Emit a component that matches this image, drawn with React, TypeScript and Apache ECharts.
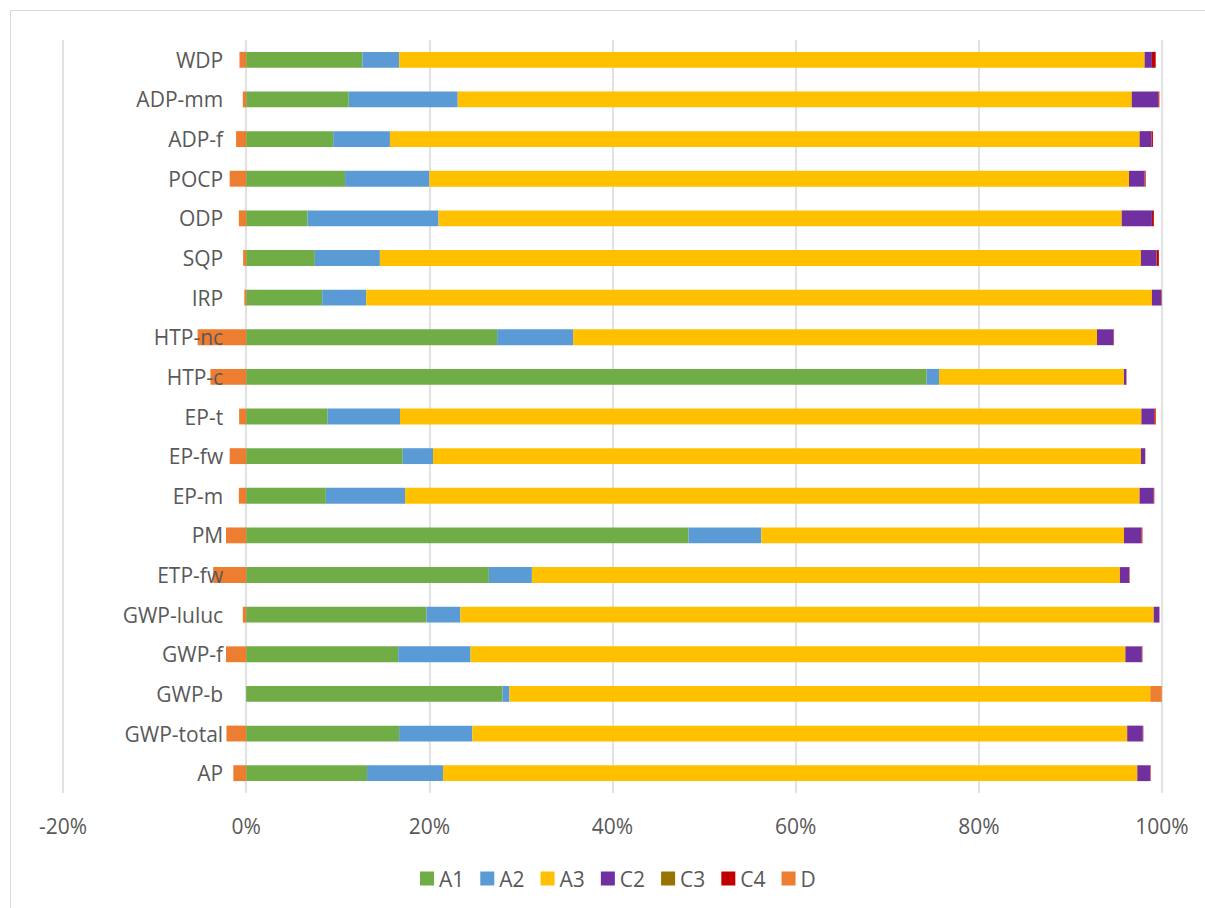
import React, { useEffect, useRef } from "react";
import * as echarts from "echarts";

const categories = [
  "AP", "GWP-total", "GWP-b", "GWP-f", "GWP-luluc", "ETP-fw", "PM", "EP-m", "EP-fw", "EP-t",
  "HTP-c", "HTP-nc", "IRP", "SQP", "ODP", "POCP", "ADP-f", "ADP-mm", "WDP",
];

const A1 = [13.2, 16.7, 28.0, 16.6, 19.7, 26.5, 48.3, 8.7, 17.1, 8.9, 74.3, 27.4, 8.3, 7.5, 6.7, 10.8, 9.5, 11.2, 12.7];
const A2 = [8.3, 8.0, 0.75, 7.9, 3.7, 4.7, 7.95, 8.65, 3.3, 7.9, 1.35, 8.3, 4.8, 7.1, 14.3, 9.2, 6.2, 11.9, 4.0];
const A3 = [75.8, 71.5, 70.0, 71.5, 75.7, 64.2, 39.6, 80.2, 77.3, 80.95, 20.2, 57.2, 85.8, 83.1, 74.6, 76.4, 81.85, 73.6, 81.4];
const C2 = [1.4, 1.7, 0, 1.8, 0.6, 1.0, 1.9, 1.55, 0.45, 1.4, 0.25, 1.8, 1.0, 1.7, 3.3, 1.7, 1.3, 2.9, 0.8];
const C3 = [0.01, 0.01, 0.01, 0.01, 0.01, 0.01, 0.01, 0.01, 0.01, 0.01, 0.01, 0.01, 0.01, 0.01, 0.01, 0.01, 0.01, 0.01, 0.01];
const C4 = [0.05, 0.05, 0.02, 0.05, 0.02, 0.05, 0.1, 0.05, 0.02, 0.15, 0.02, 0.05, 0.05, 0.25, 0.2, 0.1, 0.15, 0.1, 0.4];
const D = [-1.4, -2.15, 1.2, -2.2, -0.37, -3.6, -2.2, -0.8, -1.8, -0.77, -3.9, -5.3, -0.2, -0.33, -0.8, -1.8, -1.1, -0.37, -0.73];

const seriesNames = ["A1", "A2", "A3", "C2", "C3", "C4", "D"];
const seriesData = [A1, A2, A3, C2, C3, C4, D];
const colors = ["#70AD47", "#5B9BD5", "#FFC000", "#7030A0", "#997300", "#C00000", "#ED7D31"];

const xTicks = { min: -20, max: 100, interval: 20 };

const FONT = "Open Sans";
const GRID_LEFT = 63;

export default function App() {
  const ref = useRef<HTMLDivElement>(null);
  useEffect(() => {
    document.body.style.margin = "0";
    const chart = echarts.init(ref.current!, undefined, { renderer: "svg" });
    chart.setOption({
      animation: false,
      backgroundColor: "#ffffff",
      color: colors,
      textStyle: { fontFamily: FONT },
      grid: { left: GRID_LEFT, right: 43, top: 40, bottom: 115, containLabel: false, outerBoundsMode: "none" },
      legend: {
        data: seriesNames,
        left: 415,
        top: 863,
        icon: "rect",
        itemWidth: 14,
        itemHeight: 14,
        itemGap: 16,
        textStyle: { color: "#595959", fontSize: 21, fontFamily: FONT },
      },
      graphic: [
        { type: "line", shape: { x1: 10.5, y1: 10.5, x2: 1205, y2: 10.5 }, style: { stroke: "#d9d9d9", lineWidth: 1 } },
        { type: "line", shape: { x1: 10.5, y1: 10.5, x2: 10.5, y2: 908 }, style: { stroke: "#d9d9d9", lineWidth: 1 } },
      ],
      xAxis: {
        type: "value",
        min: xTicks.min,
        max: xTicks.max,
        interval: xTicks.interval,
        axisLine: { show: false },
        axisTick: { show: false },
        splitLine: { show: true, lineStyle: { color: "#d9d9d9", width: 1.5 } },
        axisLabel: {
          formatter: "{value}%",
          color: "#595959",
          fontSize: 21,
          fontFamily: FONT,
          margin: 22,
          showMinLabel: true,
          showMaxLabel: true,
        },
      },
      yAxis: {
        type: "category",
        data: categories,
        z: 5,
        axisLine: { show: false },
        axisTick: { show: false },
        splitLine: { show: false },
        axisLabel: { color: "#595959", fontSize: 21, fontFamily: FONT, margin: 23 },
      },
      series: seriesNames.map((name, i) => ({
        name,
        type: "bar",
        stack: "total",
        barWidth: "40%",
        data: seriesData[i],
        itemStyle: { color: colors[i] },
      })),
    });
    // place the category axis on the x = 0 line, using the value axis' own scale
    const zeroX = chart.convertToPixel({ xAxisIndex: 0 }, 0) as number;
    chart.setOption({ yAxis: { offset: -(zeroX - GRID_LEFT) } });
    return () => chart.dispose();
  }, []);
  return <div ref={ref} style={{ width: 1205, height: 908 }} />;
}
